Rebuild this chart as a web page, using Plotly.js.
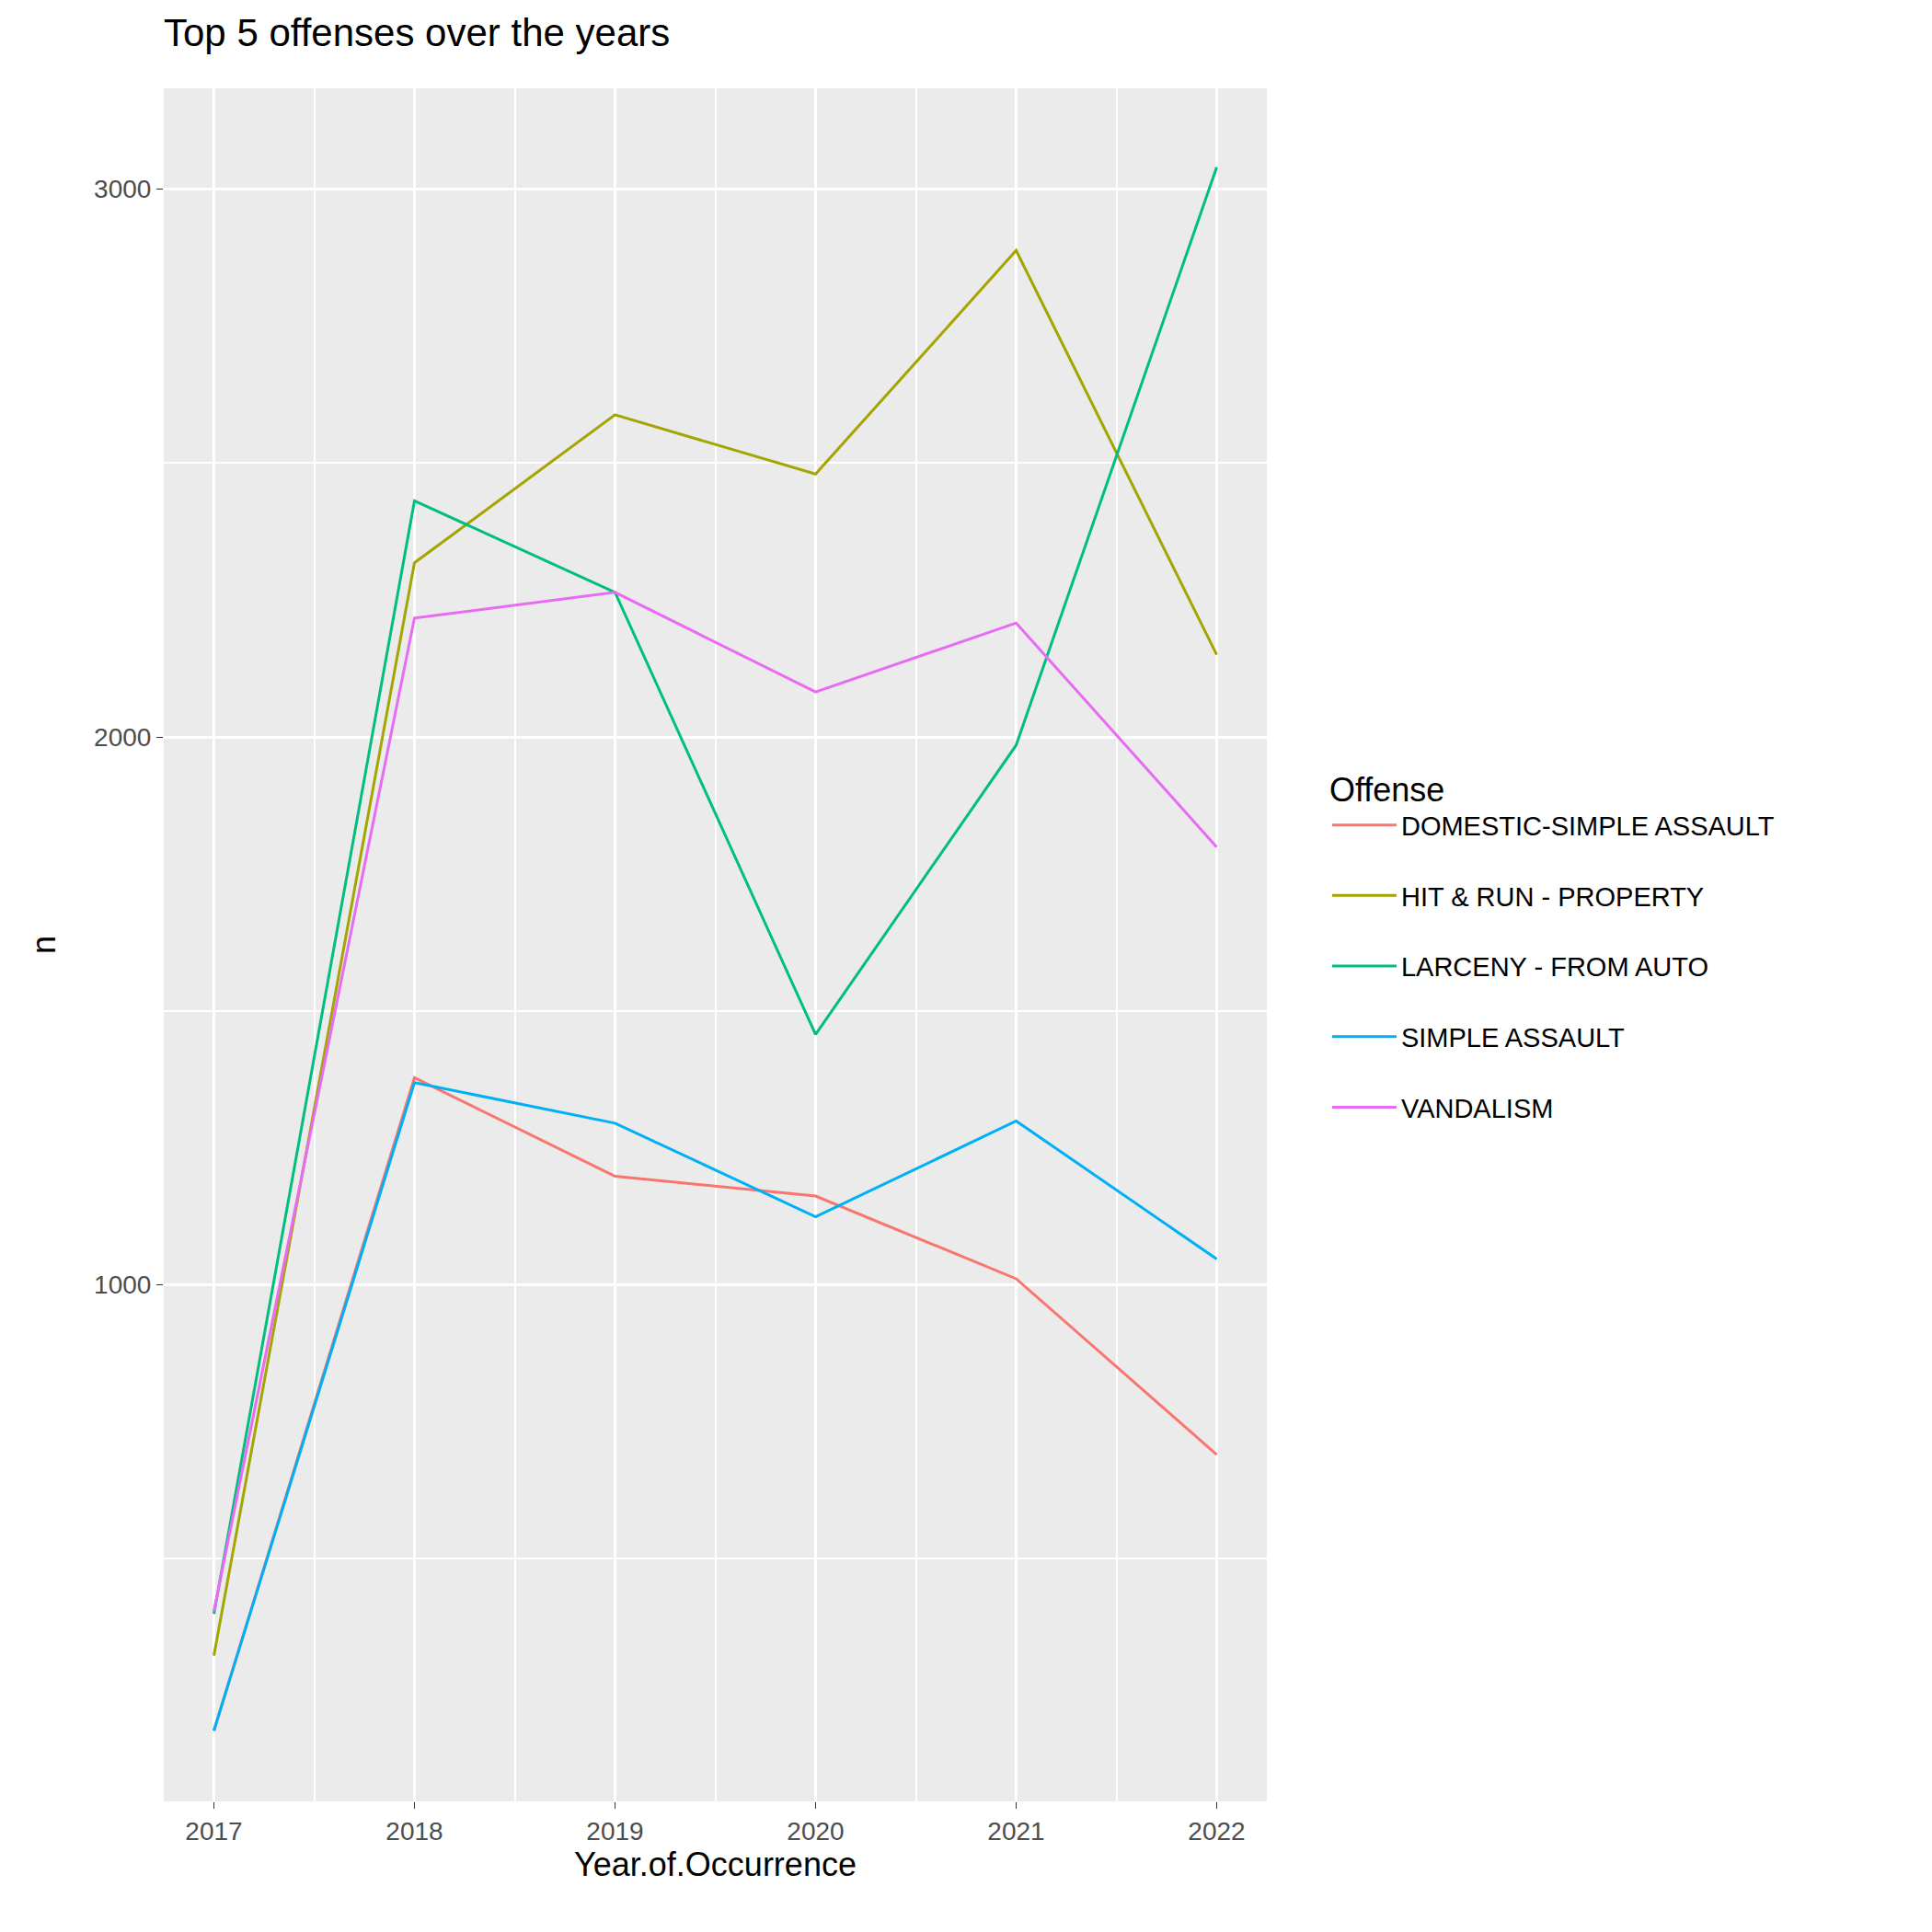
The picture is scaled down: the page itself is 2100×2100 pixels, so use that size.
<!DOCTYPE html><html><head><script src="https://cdn.plot.ly/plotly-3.0.1.min.js"></script>
<style>body{margin:0}</style></head><body><div id="c" style="width:2100px;height:2100px"></div><script>
const years=[2017,2018,2019,2020,2021,2022];
const names=["DOMESTIC-SIMPLE ASSAULT","HIT & RUN - PROPERTY","LARCENY - FROM AUTO","SIMPLE ASSAULT","VANDALISM"];
const colors=["#F8766D","#A3A500","#00BF7D","#00B0F6","#E76BF3"];
const domestic=[186,1378,1198,1162,1011,690];
const hitrun=[323,2318,2588,2480,2888,2150];
const larceny=[399,2431,2264,1457,1985,3040];
const simple=[186,1369,1295,1124,1299,1047];
const vandalism=[404,2217,2264,2082,2208,1799];
const series=[domestic,hitrun,larceny,simple,vandalism];
const traces=series.map((v,i)=>({x:years,y:v,name:names[i],legendgroup:'g'+i,mode:'lines',line:{color:colors[i],width:3}}));
const f="Liberation Sans, Arial, sans-serif";
Plotly.newPlot('c',traces,{
width:2100,height:2100,paper_bgcolor:'white',plot_bgcolor:'#EBEBEB',
margin:{l:178,r:723,t:96,b:142},
font:{family:f},
title:{text:'Top 5 offenses over the years',x:178/2100,xanchor:'left',y:0.99,yanchor:'top',font:{size:42,color:'black'}},
xaxis:{range:[2016.75,2022.25],tickvals:years,ticks:'outside',ticklen:7,tickcolor:'#333',gridcolor:'white',gridwidth:3,zeroline:false,
 minor:{dtick:0.5,tick0:2016.5,showgrid:true,gridcolor:'white',gridwidth:1.5},
 tickfont:{size:28,color:'#4D4D4D'},title:{text:'Year.of.Occurrence',font:{size:36,color:'black'},standoff:6}},
yaxis:{range:[57,3184],tickvals:[1000,2000,3000],ticks:'outside',ticklen:7,tickcolor:'#333',gridcolor:'white',gridwidth:3,zeroline:false,
 minor:{tickvals:[500,1500,2500],showgrid:true,gridcolor:'white',gridwidth:1.5,ticks:''},
 tickfont:{size:28,color:'#4D4D4D'},title:{text:'n',font:{size:36,color:'black'},standoff:30}},
legend:{x:1.055,y:0.5,yanchor:'middle',xanchor:'left',bgcolor:'white',font:{size:29,color:'black'},
 title:{text:'Offense',font:{size:36}},tracegroupgap:36,itemwidth:70}
},{displayModeBar:false});
</script></body></html>
